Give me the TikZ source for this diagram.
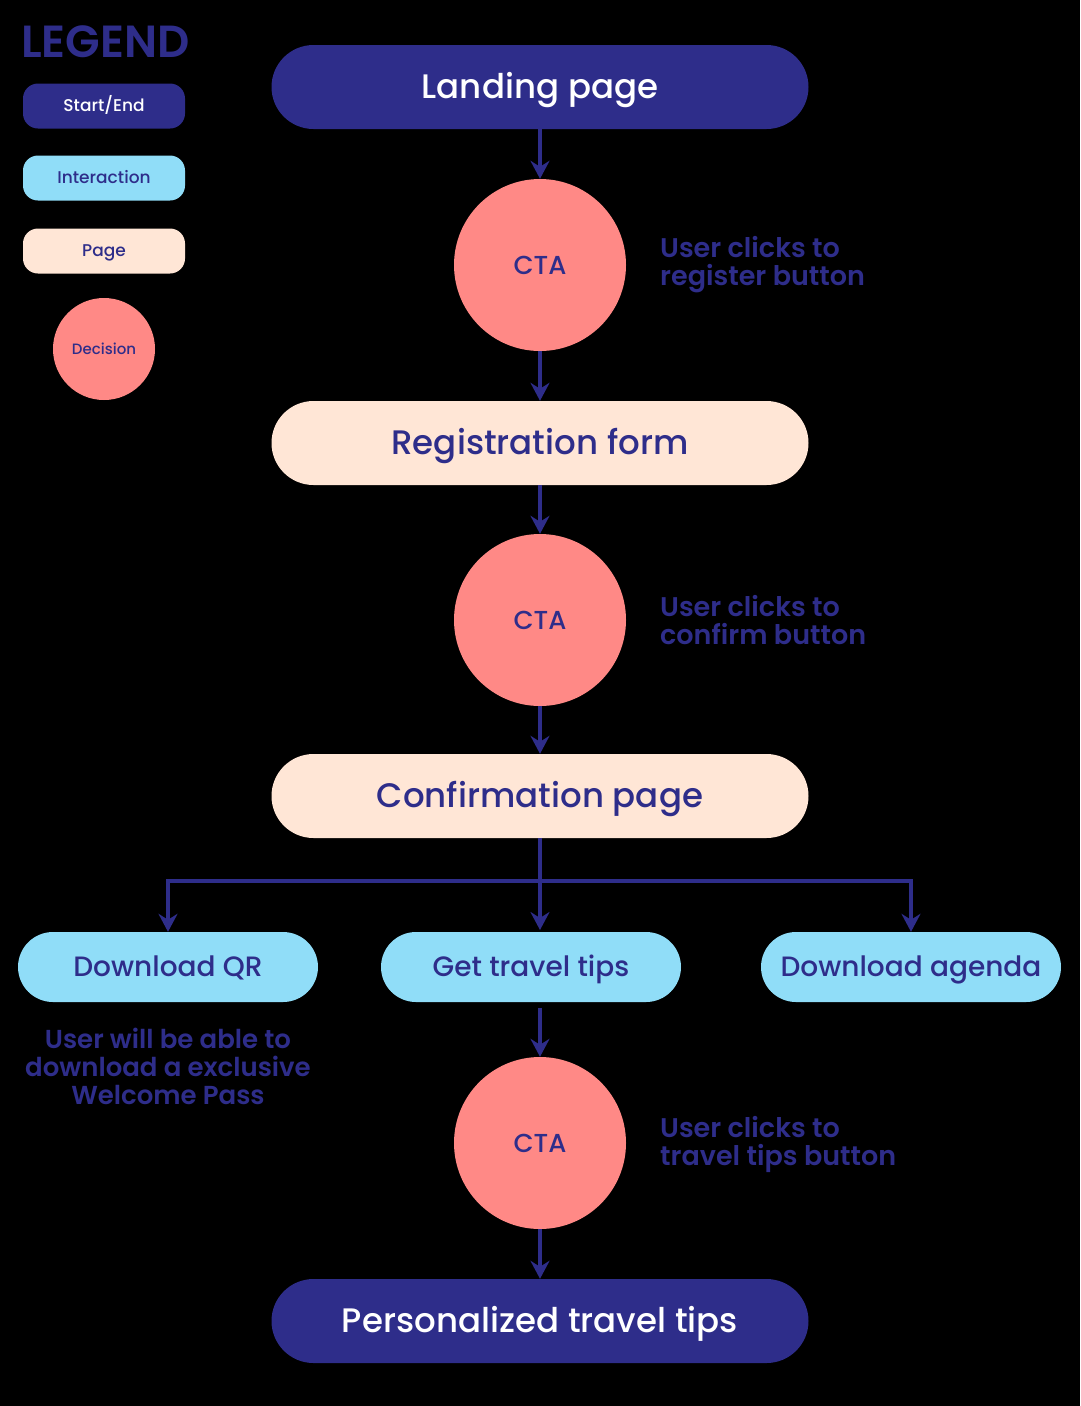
\documentclass[tikz,border=0pt]{standalone}
\usepackage{fontspec}
\setmainfont{Poppins}[UprightFont=* Medium, BoldFont=* SemiBold]
\usetikzlibrary{positioning, arrows.meta}
\definecolor{navy}{HTML}{2E2D8A}
\definecolor{sky}{HTML}{90DDF8}
\definecolor{peach}{HTML}{FFE6D6}
\definecolor{salmon}{HTML}{FF8986}
\tikzset{
x=1pt, y=-1pt, % one unit is one pixel of the layout, y going down
flow/.style={navy, line width=3.5pt, -{Stealth[length=18pt, width=19pt, inset=6pt]}}, % connectors
capcenter/.style={text height=#1, text depth=0pt}, % centre the text on its capitals
wide/.style={minimum width=537pt, minimum height=84pt, rounded corners=42pt, inner sep=0pt,
  capcenter=23.8pt, font=\fontsize{34}{40}\selectfont}, % the big boxes in the flow
terminal/.style={wide, fill=navy, text=white},
page/.style={wide, fill=peach, text=navy},
interaction/.style={minimum width=300pt, minimum height=70pt, rounded corners=35pt, inner sep=0pt,
  capcenter=19.6pt, fill=sky, text=navy, font=\fontsize{28}{32}\selectfont},
decision/.style={circle, minimum size=172pt, inner sep=0pt, fill=salmon, text=navy,
  capcenter=18.2pt, font=\fontsize{26}{30}\selectfont},
note/.style={text=navy, font=\bfseries\fontsize{27}{28}\selectfont, inner sep=0pt},
key/.style={minimum width=162pt, minimum height=45pt, rounded corners=15pt, inner sep=0pt,
  capcenter=11.9pt, font=\fontsize{17}{20}\selectfont},
}
\begin{document}
\begin{tikzpicture}
                \fill[black] (0,0) rectangle (1080,1406);

                % legend
                \node[anchor=west, text=navy, inner sep=0pt, capcenter=31.5pt, font=\bfseries\fontsize{45}{48}\selectfont] (legend) at (21,42) {LEGEND};
                \node[key, fill=navy, text=white] (kstart) at (104,106) {Start/End};
                \node[key, fill=sky, text=navy] (kinter) at (104,178) {Interaction};
                \node[key, fill=peach, text=navy] (kpage) at (104,251) {Page};
                \node[circle, minimum size=102pt, inner sep=0pt, fill=salmon, text=navy,
                  capcenter=10.5pt, font=\fontsize{15}{18}\selectfont] (kdec) at (104,349) {Decision};

                % main flow
                \node[terminal] (landing) at (540,87) {Landing page};
                \node[decision] (cta1) at (540,265) {CTA};
                \node[page] (form) at (540,443) {Registration form};
                \node[decision] (cta2) at (540,620) {CTA};
                \node[page] (confirm) at (540,796) {Confirmation page};
                \node[interaction] (qr) at (168,967) {Download QR};
                \node[interaction] (tips) at (531,967) {Get travel tips};
                \node[interaction] (agenda) at (911,967) {Download agenda};
                \node[decision] (cta3) at (540,1143) {CTA};
                \node[terminal] (result) at (540,1321) {Personalized travel tips};

                % notes
                \node[note, anchor=west, align=left] (n1) at (660,265) {User clicks to\\register button};
                \node[note, anchor=west, align=left] (n2) at (660,620) {User clicks to\\confirm button};
                \node[note, anchor=west, align=left] (n3) at (660,1144) {User clicks to\\travel tips button};
                \node[note, align=center, font=\bfseries\fontsize{26}{28}\selectfont] (n4) at (168,1066) {User will be able to\\download a exclusive\\Welcome Pass};

                \coordinate (split) at (540,881);
                \coordinate (tipsout) at (540,1008);

                \draw[flow] (landing) -- (cta1);
                \draw[flow] (cta1) -- (form);
                \draw[flow] (form) -- (cta2);
                \draw[flow] (cta2) -- (confirm);
                \draw[flow] (confirm.south) -- (540,930);
                \draw[flow] (split) -| (qr);
                \draw[flow] (split) -| (agenda);
                \draw[flow] (tipsout) -- (cta3);
                \draw[flow] (cta3) -- (result);
\end{tikzpicture}
\end{document}
